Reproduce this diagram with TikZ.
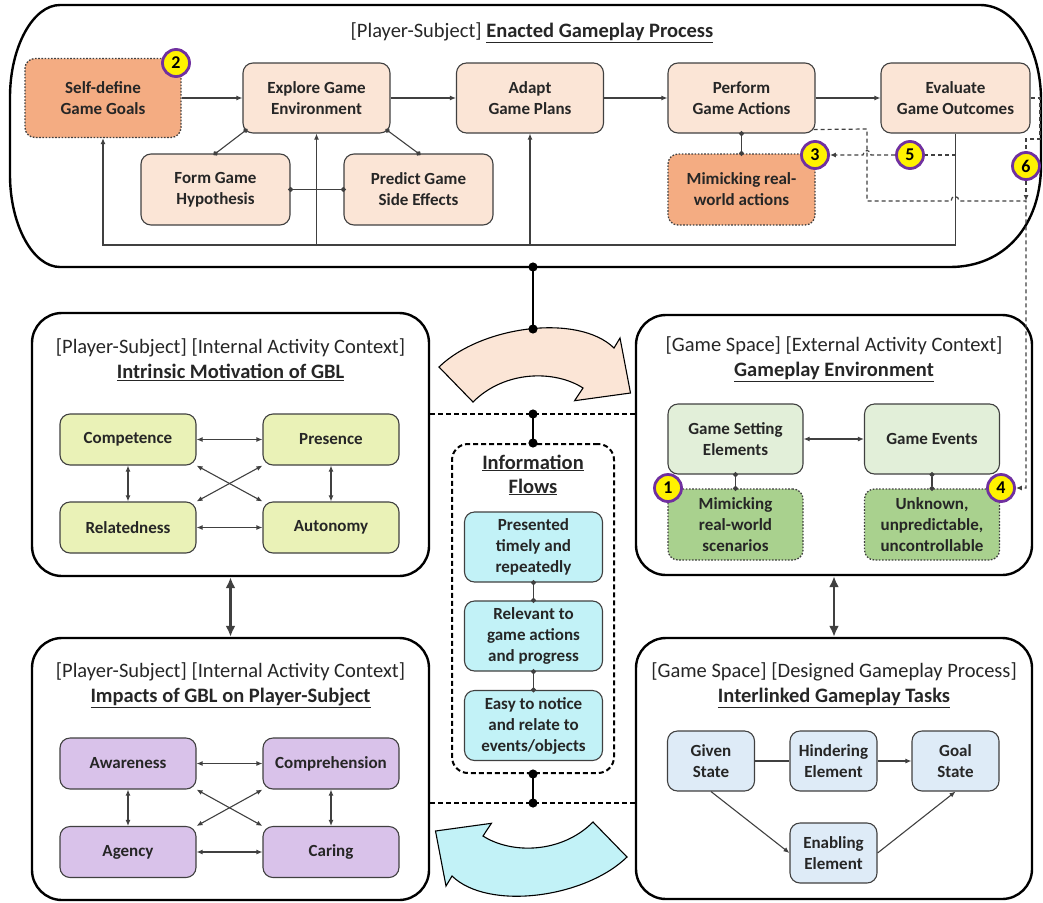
\documentclass[tikz,border=0pt]{standalone}
\usepackage{fontspec}
\setmainfont{Carlito}
\usepackage{tikz}
\usetikzlibrary{arrows.meta, positioning, calc}
\definecolor{ink}{RGB}{38,38,38}
\definecolor{edge}{RGB}{64,64,64}
\definecolor{gpLight}{RGB}{251,229,214}
\definecolor{gpDark}{RGB}{244,172,130}
\definecolor{motFill}{RGB}{234,242,183}
\definecolor{impFill}{RGB}{217,194,234}
\definecolor{envLight}{RGB}{226,239,217}
\definecolor{envDark}{RGB}{169,209,142}
\definecolor{taskFill}{RGB}{222,235,247}
\definecolor{infoFill}{RGB}{194,242,247}
\definecolor{badgeRing}{RGB}{112,48,160}
\newcommand{\boxfont}{\fontsize{17}{21}\selectfont\bfseries}
\newcommand{\headfont}{\fontsize{20.5}{25}\selectfont}
\tikzset{
  step_b/.style = {rectangle, rounded corners=10pt, align=center, inner sep=0pt, text=ink, font=\boxfont, draw=edge, line width=1.1pt},
  dotted_b/.style = {dash pattern=on 1.6pt off 1.6pt, line width=1.3pt},
  gp_n/.style = {step_b, fill=gpLight, minimum width=147pt, minimum height=70pt},
  gp_x/.style = {step_b, dotted_b, fill=gpDark, minimum width=147pt, minimum height=71pt},
  mot_n/.style = {step_b, fill=motFill, minimum width=136pt, minimum height=51pt},
  imp_n/.style = {step_b, fill=impFill, minimum width=136pt, minimum height=51pt},
  env_n/.style = {step_b, fill=envLight, minimum width=135pt, minimum height=70pt},
  env_x/.style = {step_b, dotted_b, fill=envDark, minimum width=135pt, minimum height=71pt},
  task_n/.style = {step_b, fill=taskFill, minimum width=87pt, minimum height=60pt},
  info_n/.style = {step_b, fill=infoFill, minimum width=138pt, minimum height=70pt},
  ctx_f/.style = {rectangle, rounded corners=30pt, draw=black, line width=2.4pt, minimum width=397pt, minimum height=262pt},
  info_f/.style = {rectangle, rounded corners=16pt, draw=black, line width=2pt, dash pattern=on 5pt off 3pt, minimum width=162pt, minimum height=329pt},
  head_t/.style = {align=center, text=ink, font=\headfont},
  badge/.style = {circle, fill=yellow, draw=badgeRing, line width=2.8pt, minimum size=27pt, inner sep=0pt, text=black, font=\fontsize{18}{18}\selectfont\bfseries},
  dot_c/.style = {{Circle[length=5pt]}-{Circle[length=5pt]}, shorten <=-2.5pt, shorten >=-2.5pt, line width=1.1pt, draw=edge},
  hub_c/.style = {{Circle[length=9pt]}-{Circle[length=9pt]}, shorten <=-4.5pt, shorten >=-4.5pt, line width=2.2pt},
  hint_d/.style = {draw=edge, line width=1.2pt, dash pattern=on 4pt off 3pt},
  split_d/.style = {line width=2pt, dash pattern=on 5pt off 3pt},
  big_a/.style = {{Latex[length=11pt,width=10pt]}-{Latex[length=11pt,width=10pt]}, line width=2.2pt},
  turn_a/.style = {draw=black, line width=1.1pt, line join=miter}
}

\begin{document}
\begin{tikzpicture}[x=1pt, y=-1pt, >={Latex[length=6pt,width=5pt]}, line width=1.1pt, draw=edge]
  \useasboundingbox (0,0) rectangle (1043,902);

  % enacted gameplay process
  \draw[draw=black, line width=2.4pt] (60,5) -- (980,5) .. controls (1016,5) and (1041,50) .. (1041,100) -- (1041,165)
     .. controls (1041,225) and (1005,267) .. (950,267) -- (60,267) .. controls (33,267) and (10,225) .. (10,175)
     -- (10,97) .. controls (10,47) and (33,5) .. cycle;
  \node[head_t] (gpT) at (532,33) {[Player-Subject] \textbf{\underline{Enacted Gameplay Process}}};

  \node[gp_x, minimum width=156pt, minimum height=79pt] (self) at (103,98) {Self-define\\Game Goals};
  \node[gp_n] (expl) at (316.5,98) {Explore Game\\Environment};
  \node[gp_n] (adapt) at (530,98) {Adapt\\Game Plans};
  \node[gp_n] (perf) at (741.5,98) {Perform\\Game Actions};
  \node[gp_n, minimum width=149pt] (eval) at (955.5,98) {Evaluate\\Game Outcomes};
  \node[gp_n, minimum width=149pt, minimum height=71pt] (form) at (215.5,189.5) {Form Game\\Hypothesis};
  \node[gp_n, minimum width=149pt, minimum height=71pt] (pred) at (418.5,189.5) {Predict Game\\Side Effects};
  \node[gp_x] (mimA) at (741.5,189.5) {Mimicking real-\\world actions};

  \draw[->] (self.east) -- (expl.west);
  \draw[->] (expl) -- (adapt);
  \draw[->] (adapt) -- (perf);
  \draw[->] (perf) -- (eval);
  \draw[dot_c] ($(expl.south west)+(3,-3)$) -- (form.north);
  \draw[dot_c] ($(expl.south east)+(-3,-3)$) -- (pred.north);
  \draw[dot_c] (form.east) -- (pred.west);
  \draw[dot_c] (perf.south) -- (mimA.north);

  \coordinate (loopY) at (0,245);
  \draw[->] (eval.south) -- (eval.south |- loopY) -| (self.south);
  \draw[->] (expl.south |- loopY) -- (expl.south);
  \draw[->] (adapt.south |- loopY) -- (adapt.south);

  % context frames
  \node[ctx_f, minimum height=263pt] (mot) at (230.5,444.5) {};
  \node[ctx_f] (imp) at (230.5,769) {};
  \node[ctx_f, minimum width=396pt, minimum height=260pt] (env) at (834,445) {};
  \node[ctx_f, minimum width=396pt, minimum height=261pt] (task) at (834,768.5) {};
  \draw[big_a] (mot.south) -- (imp.north);
  \draw[big_a] (env.south) -- (task.north);

  \node[head_t] (motT) at (230.5,359.5) {[Player-Subject] [Internal Activity Context]\\\textbf{\underline{Intrinsic Motivation of GBL}}};
  \node[mot_n] (comp) at (128,439.5) {Competence};
  \node[mot_n] (pres) at (331,439.5) {Presence};
  \node[mot_n] (rel) at (128,527.5) {Relatedness};
  \node[mot_n] (auto) at (331,527.5) {Autonomy};
  \draw[<->] (comp) -- (pres);
  \draw[<->] (rel) -- (auto);
  \draw[<->] (comp) -- (rel);
  \draw[<->] (pres) -- (auto);
  \draw[<->] (comp.south east) -- (auto.north west);
  \draw[<->] (pres.south west) -- (rel.north east);

  \node[head_t] (impT) at (230.5,685) {[Player-Subject] [Internal Activity Context]\\\textbf{\underline{Impacts of GBL on Player-Subject}}};
  \node[imp_n] (aware) at (128,763.5) {Awareness};
  \node[imp_n] (compr) at (331,763.5) {Comprehension};
  \node[imp_n] (agen) at (128,852) {Agency};
  \node[imp_n] (car) at (331,852) {Caring};
  \draw[<->] (aware) -- (compr);
  \draw[<->] (agen) -- (car);
  \draw[<->] (aware) -- (agen);
  \draw[<->] (compr) -- (car);
  \draw[<->] (aware.south east) -- (car.north west);
  \draw[<->] (compr.south west) -- (agen.north east);

  \node[head_t] (envT) at (834,359.5) {[Game Space] [External Activity Context]\\\textbf{\underline{Gameplay Environment}}};
  \node[env_n] (gse) at (735.5,439) {Game Setting\\Elements};
  \node[env_n] (gev) at (932,439) {Game Events};
  \node[env_x] (mimS) at (735.5,524.5) {Mimicking\\real-world\\scenarios};
  \node[env_x] (unkn) at (932,524.5) {Unknown,\\unpredictable,\\uncontrollable};
  \draw[<->] (gse) -- (gev);
  \draw[dot_c] (gse.south) -- (mimS.north);
  \draw[dot_c] (gev.south) -- (unkn.north);

  \node[head_t] (taskT) at (834,685.5) {[Game Space] [Designed Gameplay Process]\\\textbf{\underline{Interlinked Gameplay Tasks}}};
  \node[task_n] (given) at (711,761) {Given\\State};
  \node[task_n] (hind) at (833.5,761) {Hindering\\Element};
  \node[task_n] (goal) at (955.5,761) {Goal\\State};
  \node[task_n] (enab) at (833.5,853) {Enabling\\Element};
  \draw (given) -- (hind);
  \draw[->] (hind) -- (goal);
  \draw[->] (given.south) -- (enab.west);
  \draw[->] (enab.east) -- (goal.south);

  % information flows
  \node[info_f] (info) at (533,608.5) {};
  \node[align=center, text=ink, font=\fontsize{20.5}{24}\selectfont\bfseries] (infoT) at (533,475) {\underline{Information}\\\underline{Flows}};
  \node[info_n] (inf1) at (533.5,547) {Presented\\timely and\\repeatedly};
  \node[info_n] (inf2) at (533.5,636) {Relevant to\\game actions\\and progress};
  \node[info_n] (inf3) at (533.5,725.5) {Easy to notice\\and relate to\\events/objects};
  \draw[dot_c] (inf1.south) -- (inf2.north);
  \draw[dot_c] (inf2.south) -- (inf3.north);

  \coordinate (hubA) at (533,414);
  \coordinate (hubB) at (533,803);
  \coordinate (gpBase) at (533,267);
  \coordinate (turnTop) at (533,329);
  \draw[split_d, draw=black] (hubA -| mot.east) -- (hubA -| env.west);
  \draw[split_d, draw=black] (hubB -| imp.east) -- (hubB -| task.west);

  % turning arrows
  \filldraw[turn_a, fill=gpLight, shift={(533,612)}] (-94,-245) .. controls (-52,-286) and (45,-299) .. (81,-264)
     -- (87,-274) -- (97.5,-219) -- (41.6,-211.3) -- (50,-224) .. controls (22,-242) and (-28,-242) .. (-60,-210) -- cycle;
  \filldraw[turn_a, fill=infoFill, shift={(533,612)}, rotate=180] (-94,-245) .. controls (-52,-286) and (45,-299) .. (81,-264)
     -- (87,-274) -- (97.5,-219) -- (41.6,-211.3) -- (50,-224) .. controls (22,-242) and (-28,-242) .. (-60,-210) -- cycle;

  \draw[hub_c, draw=black] (gpBase) -- (turnTop);
  \draw[hub_c, draw=black] (hubA) -- (info.north);
  \draw[hub_c, draw=black] (info.south) -- (hubB);

  % numbered hints
  \node[badge] (b1) at (668,488) {1};
  \node[badge] (b2) at (176,63) {2};
  \node[badge] (b3) at (815,155) {3};
  \node[badge] (b4) at (1001,488) {4};
  \node[badge] (b5) at (910,155) {5};
  \node[badge] (b6) at (1026,166) {6};

  \draw[hint_d] (eval.south |- b5) -- (b5);
  \draw[hint_d, ->] (b5) -- (871,155) .. controls (871,149) and (863,149) .. (863,155) -- (b3);
  \draw[hint_d] (eval.east) -- (1040,98) -- (1040,139) -- (1026,139) -- (b6);
  \draw[hint_d, ->] (b6) -- (1026,201);
  \draw[hint_d, ->] ($(perf.south east)+(-2,-4)$) -- (867,129) -- (867,201) -- (951,201)
     .. controls (951,195) and (959,195) .. (959,201) -- (1026,201) -- (1026,488) -- (b4);
\end{tikzpicture}
\end{document}
